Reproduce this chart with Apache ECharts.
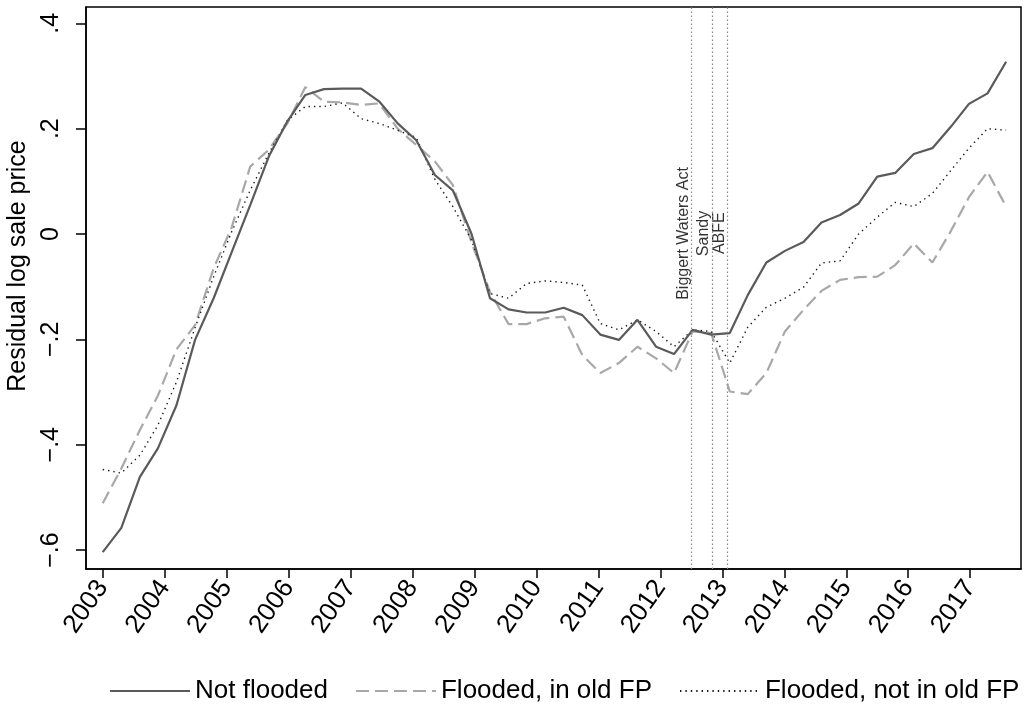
<!DOCTYPE html>
<html><head><meta charset="utf-8">
<script src="https://cdn.jsdelivr.net/npm/echarts@6/dist/echarts.min.js"></script>
<style>html,body{margin:0;padding:0;background:#fff}#c{width:1025px;height:705px}</style>
</head><body><div id="c"></div>
<script>
const periods = [2003.00,2003.30,2003.60,2003.89,2004.19,2004.49,2004.79,2005.08,2005.38,2005.68,
  2005.98,2006.27,2006.57,2006.87,2007.17,2007.46,2007.76,2008.06,2008.36,2008.65,
  2008.95,2009.25,2009.55,2009.84,2010.14,2010.44,2010.74,2011.03,2011.33,2011.63,
  2011.93,2012.22,2012.52,2012.82,2013.12,2013.41,2013.71,2014.01,2014.31,2014.60,
  2014.90,2015.20,2015.50,2015.79,2016.09,2016.39,2016.69,2016.98,2017.28,2017.58];
const notFlooded = [-0.604,-0.558,-0.461,-0.407,-0.325,-0.201,-0.122,-0.035,0.055,0.147,
  0.214,0.264,0.275,0.276,0.276,0.252,0.210,0.178,0.112,0.083,
  0.001,-0.122,-0.143,-0.149,-0.149,-0.140,-0.154,-0.191,-0.201,-0.163,
  -0.214,-0.228,-0.182,-0.191,-0.188,-0.116,-0.054,-0.032,-0.015,0.022,
  0.036,0.058,0.109,0.116,0.152,0.163,0.204,0.247,0.267,0.327];
const floodedInOldFP = [-0.511,-0.445,-0.372,-0.307,-0.219,-0.173,-0.065,0.012,0.128,0.160,
  0.210,0.279,0.251,0.250,0.245,0.248,0.200,0.169,0.138,0.093,
  -0.015,-0.110,-0.171,-0.171,-0.160,-0.157,-0.230,-0.264,-0.245,-0.214,
  -0.236,-0.264,-0.185,-0.188,-0.299,-0.304,-0.264,-0.185,-0.144,-0.108,
  -0.087,-0.082,-0.081,-0.059,-0.018,-0.054,0.006,0.070,0.118,0.052];
const floodedNotInOldFP = [-0.447,-0.454,-0.420,-0.363,-0.281,-0.178,-0.081,0.004,0.083,0.153,
  0.216,0.242,0.242,0.249,0.219,0.210,0.197,0.183,0.104,0.052,
  -0.011,-0.113,-0.122,-0.094,-0.089,-0.092,-0.097,-0.170,-0.182,-0.163,
  -0.185,-0.214,-0.182,-0.185,-0.245,-0.177,-0.139,-0.122,-0.101,-0.055,
  -0.051,0.000,0.032,0.060,0.052,0.077,0.121,0.163,0.200,0.197];
const seriesNames = ['Not flooded','Flooded, in old FP','Flooded, not in old FP'];
const xTickValues = [2003,2004,2005,2006,2007,2008,2009,2010,2011,2012,2013,2014,2015,2016,2017];
const yTickValues = [-0.6,-0.4,-0.2,0,0.2,0.4];
const yTickLabels = ['\u2212.6','\u2212.4','\u2212.2','0','.2','.4'];
const eventNames = ['Biggert Waters Act','Sandy','ABFE'];
const eventDates = [2012.5,2012.83,2013.08];
const eventLabelY = [-0.125,-0.042,-0.038];
const yAxisTitle = 'Residual log sale price';

const FONT = '"Liberation Sans", Arial, Helvetica, sans-serif';
const zip = (xs, ys) => xs.map((x, i) => [x, ys[i]]);

const chart = echarts.init(document.getElementById('c'), null, {renderer: 'canvas'});
chart.setOption({
  animation: false,
  backgroundColor: '#fff',
  textStyle: {fontFamily: FONT, color: '#000'},
  grid: {left: 86, right: 4, top: 7, bottom: 136, show: true, borderColor: '#000', borderWidth: 1.5, outerBoundsMode: 'none'},
  legend: {
    data: seriesNames,
    left: 104, top: 673, width: 1000,
    itemWidth: 80, itemHeight: 14, itemGap: 27,
    itemStyle: {opacity: 0},
    textStyle: {fontSize: 26, color: '#000', fontFamily: FONT},
    selectedMode: false
  },
  xAxis: {
    type: 'value', min: 2002.73, max: 2017.82,
    splitLine: {show: false},
    axisLine: {show: true, onZero: false, lineStyle: {color: '#000', width: 1.5}},
    axisTick: {show: true, length: 9, customValues: xTickValues, lineStyle: {color: '#000', width: 1.5}},
    axisLabel: {customValues: xTickValues, rotate: 55, margin: 14, fontSize: 26, color: '#000', fontFamily: FONT,
      formatter: v => String(Math.round(v))}
  },
  yAxis: {
    type: 'value', min: -0.636, max: 0.431,
    name: yAxisTitle, nameLocation: 'middle', nameGap: 52,
    nameTextStyle: {fontSize: 25, color: '#000', fontFamily: FONT, padding: [0, 0, 0, 44]},
    splitLine: {show: false},
    axisLine: {show: true, onZero: false, lineStyle: {color: '#000', width: 1.5}},
    axisTick: {show: true, length: 10, customValues: yTickValues, lineStyle: {color: '#000', width: 1.5}},
    axisLabel: {customValues: yTickValues, rotate: 90, margin: 22, fontSize: 25, color: '#000', fontFamily: FONT,
      formatter: v => { const i = yTickValues.findIndex(t => Math.abs(t - v) < 1e-6); return i >= 0 ? yTickLabels[i] : ''; }}
  },
  series: [
    {
      name: 'events', type: 'scatter', symbolSize: 0, silent: true, z: 1,
      data: eventDates.map((d, i) => ({value: [d, eventLabelY[i]], label: {formatter: eventNames[i]}})),
      label: {show: true, position: [0, 0], rotate: 90, align: 'left', verticalAlign: 'bottom',
        fontSize: 16, color: '#000', fontFamily: FONT},
      markLine: {
        silent: true, symbol: ['none', 'none'], label: {show: false},
        lineStyle: {color: '#8c8c8c', type: [1.5, 2.5], width: 1.2},
        data: eventDates.map(d => ({xAxis: d}))
      }
    },
    {
      name: seriesNames[0], type: 'line', data: zip(periods, notFlooded), symbol: 'none', z: 4,
      lineStyle: {color: '#5a5a5a', width: 2.2, type: 'solid'}, itemStyle: {color: '#5a5a5a'}
    },
    {
      name: seriesNames[1], type: 'line', data: zip(periods, floodedInOldFP), symbol: 'none', z: 3,
      lineStyle: {color: '#a8a8a8', width: 2.2, type: [13, 6]}, itemStyle: {color: '#a8a8a8'}
    },
    {
      name: seriesNames[2], type: 'line', data: zip(periods, floodedNotInOldFP), symbol: 'none', z: 3,
      lineStyle: {color: '#1a1a1a', width: 1.4, type: [1.4, 4]}, itemStyle: {color: '#1a1a1a'}
    }
  ]
});
</script>
</body></html>
